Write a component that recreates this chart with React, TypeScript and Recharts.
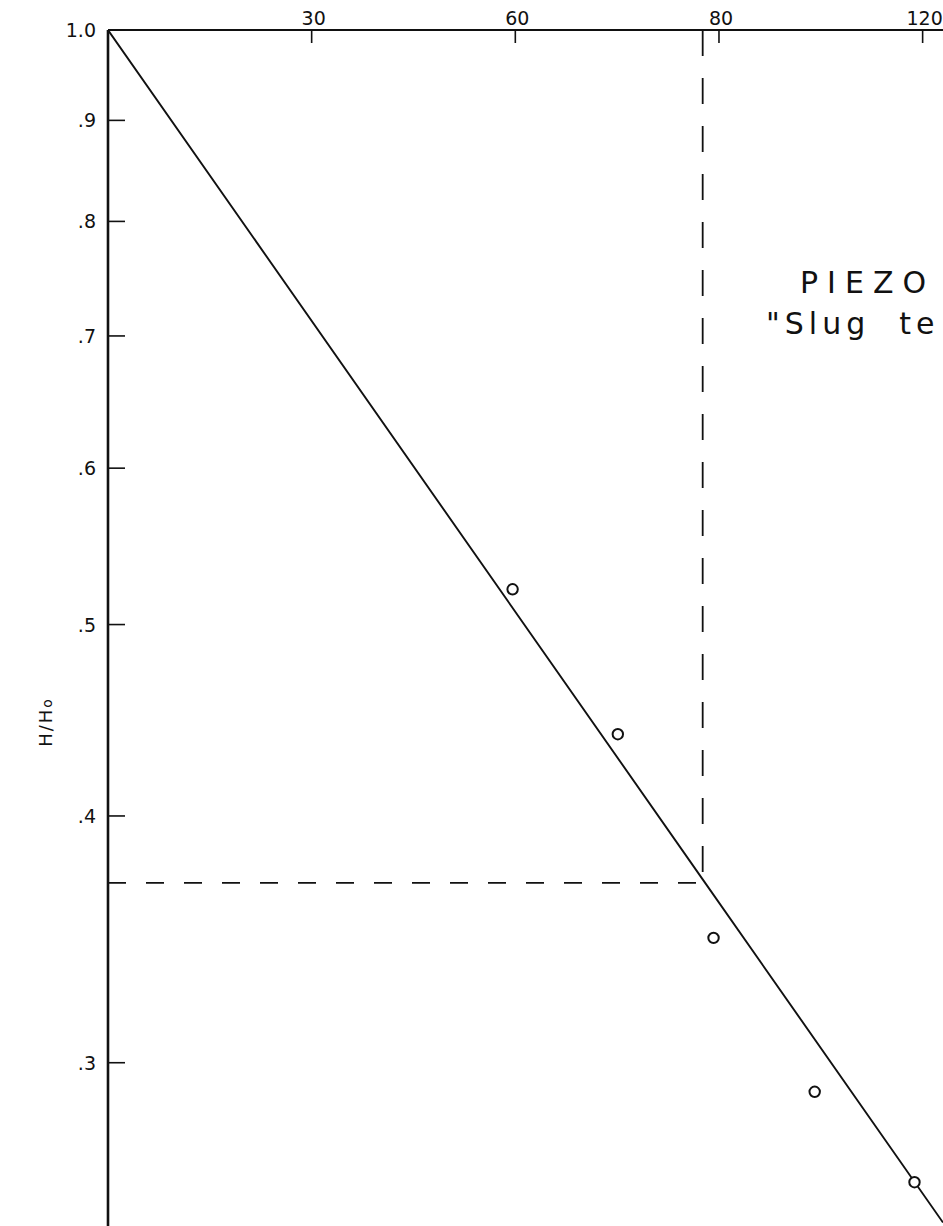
import { ComposedChart, Line, Scatter, XAxis, YAxis, ReferenceLine } from 'recharts'

// elapsed time (top axis) and head ratio H/Ho (log axis)
const xTicks = [30, 60, 90, 120]
const xTickLabels = ['30', '60', '80', '120']
const yTicks = [1.0, 0.9, 0.8, 0.7, 0.6, 0.5, 0.4, 0.3]
const yTickLabels = ['1.0', '.9', '.8', '.7', '.6', '.5', '.4', '.3']

// measured points
const obsTime = [59.6, 75.1, 89.2, 104.1, 118.8]
const obsRatio = [0.521, 0.44, 0.347, 0.29, 0.261]

// hand fitted straight line
const fitTime = [0, 87.6, 123]
const fitRatio = [1.0, 0.3715, 0.249]

// basic time lag read where the line crosses H/Ho = .37
const lagTime = 87.6
const lagRatio = 0.37

const observed = obsTime.map((t, i) => ({ t, h: obsRatio[i] }))
const fitted = fitTime.map((t, i) => ({ t, h: fitRatio[i] }))

const FONT = '"DejaVu Sans", sans-serif'

function YTick(props: any) {
  const { x, y, payload } = props
  const label = yTickLabels[yTicks.indexOf(payload.value)]
  return (
    <g>
      <line x1={x} x2={x + 17} y1={y} y2={y} stroke="#111" strokeWidth={1.6} />
      <text x={x - 12} y={y} textAnchor="end" dominantBaseline="central" fontSize={19} fontFamily={FONT} fill="#111">
        {label}
      </text>
    </g>
  )
}

function XTick(props: any) {
  const { x, y, payload } = props
  const label = xTickLabels[xTicks.indexOf(payload.value)]
  return (
    <g>
      <line x1={x} x2={x} y1={y} y2={y + 13} stroke="#111" strokeWidth={1.6} />
      <text x={x + 2} y={y - 5} textAnchor="middle" fontSize={19} fontFamily={FONT} fill="#111">
        {label}
      </text>
    </g>
  )
}

function YLabel() {
  return (
    <text transform="translate(52, 722) rotate(-90)" textAnchor="middle" fontSize={18} fontFamily={FONT} fill="#111" letterSpacing={2}>
      H/H<tspan fontSize={14}>o</tspan>
    </text>
  )
}

export default function App() {
  return (
    <div style={{ position: 'absolute', left: 0, top: 0, width: 943, height: 1226, overflow: 'hidden', background: '#fff' }}>
      <ComposedChart width={943} height={1226} margin={{ top: 0, right: 0, bottom: 0, left: 0 }}>
        <XAxis
          xAxisId={0}
          type="number"
          dataKey="t"
          orientation="top"
          height={30}
          domain={[0, 123]}
          ticks={xTicks}
          tick={<XTick />}
          tickSize={0}
          tickMargin={0}
          tickLine={false}
          axisLine={{ stroke: '#111', strokeWidth: 1.8 }}
          allowDataOverflow
        />
        <YAxis
          yAxisId={0}
          type="number"
          dataKey="h"
          scale="log"
          width={108}
          domain={[0.248, 1]}
          ticks={yTicks}
          tick={<YTick />}
          tickSize={0}
          tickMargin={0}
          tickLine={false}
          axisLine={{ stroke: '#111', strokeWidth: 2.6 }}
          label={{ content: <YLabel /> }}
          allowDataOverflow
        />
        <ReferenceLine
          segment={[{ x: 0, y: lagRatio }, { x: lagTime, y: lagRatio }]}
          stroke="#111"
          strokeWidth={1.8}
          strokeDasharray="18 20"
        />
        <ReferenceLine
          segment={[{ x: lagTime, y: 1.0 }, { x: lagTime, y: lagRatio }]}
          stroke="#111"
          strokeWidth={1.8}
          strokeDasharray="26 22"
        />
        <Line
          data={fitted}
          dataKey="h"
          type="linear"
          stroke="#111"
          strokeWidth={1.9}
          dot={false}
          activeDot={false}
          isAnimationActive={false}
        />
        <Scatter
          data={observed}
          dataKey="h"
          isAnimationActive={false}
          shape={(p: any) => <circle cx={p.cx} cy={p.cy} r={5.2} fill="#fff" stroke="#111" strokeWidth={2} />}
        />
      </ComposedChart>
      <div style={{ position: 'absolute', left: 800, top: 265, fontFamily: FONT, fontSize: 30, letterSpacing: 9, color: '#111', whiteSpace: 'nowrap' }}>
        PIEZO
      </div>
      <div style={{ position: 'absolute', left: 766, top: 306, fontFamily: FONT, fontSize: 30, letterSpacing: 5, color: '#111', whiteSpace: 'nowrap' }}>
        "Slug&nbsp;&nbsp;te
      </div>
    </div>
  )
}
